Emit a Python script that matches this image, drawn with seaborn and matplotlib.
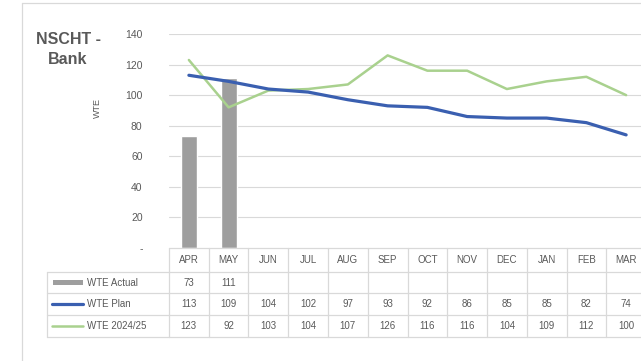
import numpy as np
import pandas as pd
import matplotlib
matplotlib.use("Agg")
import matplotlib.pyplot as plt
import matplotlib.transforms as mtransforms
from matplotlib.patches import Rectangle
from matplotlib.lines import Line2D
import seaborn as sns

months = ["APR", "MAY", "JUN", "JUL", "AUG", "SEP", "OCT", "NOV", "DEC", "JAN", "FEB", "MAR"]
wte_actual = [73, 111, None, None, None, None, None, None, None, None, None, None]
wte_plan = [113, 109, 104, 102, 97, 93, 92, 86, 85, 85, 82, 74]
wte_prev = [123, 92, 103, 104, 107, 126, 116, 116, 104, 109, 112, 100]
series_names = ["WTE Actual", "WTE Plan", "WTE 2024/25"]
y_ticks = [0, 20, 40, 60, 80, 100, 120, 140]
y_tick_labels = ["-", "20", "40", "60", "80", "100", "120", "140"]

C_BAR = "#9E9E9E"
C_PLAN = "#3A5FB0"
C_PREV = "#A9D18E"
C_TEXT = "#595959"
C_GRID = "#D9D9D9"

sns.set_theme(style="white")
plt.rcParams["font.family"] = ["Liberation Sans", "DejaVu Sans"]

W, H = 641, 361
fig = plt.figure(figsize=(W / 100, H / 100), dpi=100)

def fx(px):
    return px / W

def fy(py):
    return 1 - py / H

# plot area
left_px, right_px, top_px, bottom_px = 169, 646, 34, 248
ax = fig.add_axes([fx(left_px), fy(bottom_px), fx(right_px - left_px), (bottom_px - top_px) / H])

pos = np.arange(len(months))
df = pd.DataFrame({"pos": pos, "month": months,
                   "actual": pd.array(wte_actual, dtype="Float64").astype(float),
                   "plan": wte_plan, "prev": wte_prev})

sns.barplot(data=df, x="pos", y="actual", native_scale=True, color=C_BAR,
            width=0.4, saturation=1, ax=ax, zorder=2)
sns.lineplot(data=df, x="pos", y="prev", color=C_PREV, linewidth=1.8, ax=ax, zorder=3)
sns.lineplot(data=df, x="pos", y="plan", color=C_PLAN, linewidth=2.3, ax=ax, zorder=4)

ax.set_xlim(-0.5, len(months) - 0.5)
ax.set_ylim(0, 140)
ax.set_yticks(y_ticks)
ax.set_yticklabels(y_tick_labels, color=C_TEXT, fontsize=7.5)
ax.tick_params(axis="y", length=0, pad=19)
ax.set_xticks([])
ax.set_xlabel("")
ax.set_ylabel("")
for y in y_ticks[1:]:
    ax.axhline(y, color=C_GRID, linewidth=0.8, zorder=0)
for s in ax.spines.values():
    s.set_visible(False)

# title and axis label
fig.text(fx(68), fy(40), "NSCHT -", ha="center", va="center", fontsize=11.5,
         fontweight="bold", color=C_TEXT)
fig.text(fx(68), fy(60), "Bank", ha="center", va="center", fontsize=11.5,
         fontweight="bold", color=C_TEXT)
fig.text(fx(97), fy(108), "WTE", ha="center", va="center", rotation=90,
         fontsize=6.5, color=C_TEXT)

# data table beneath the plot
tr = mtransforms.blended_transform_factory(ax.transData, fig.transFigure)
row_edges = [248, 272, 293, 315, 337]
row_mid = [(row_edges[i] + row_edges[i + 1]) / 2 for i in range(4)]
line_kw = dict(color=C_GRID, linewidth=0.9)
x_lo, x_hi = -0.5, len(months) - 0.5
# horizontal rules
fig.add_artist(Line2D([x_lo, x_hi], [fy(row_edges[0])] * 2, transform=tr, **line_kw))
for r in row_edges[1:]:
    fig.add_artist(Line2D([fx(47), fx(left_px)], [fy(r)] * 2, transform=fig.transFigure, **line_kw))
    fig.add_artist(Line2D([x_lo, x_hi], [fy(r)] * 2, transform=tr, **line_kw))
# vertical rules
for i in range(len(months) + 1):
    fig.add_artist(Line2D([i - 0.5] * 2, [fy(row_edges[0]), fy(row_edges[-1])], transform=tr, **line_kw))
fig.add_artist(Line2D([fx(47)] * 2, [fy(row_edges[1]), fy(row_edges[-1])], transform=fig.transFigure, **line_kw))

txt_kw = dict(fontsize=7, color=C_TEXT, ha="center", va="center")
rows = [months,
        ["" if v is None else str(v) for v in wte_actual],
        [str(v) for v in wte_plan],
        [str(v) for v in wte_prev]]
for r, vals in enumerate(rows):
    for i, v in enumerate(vals):
        fig.text(i, fy(row_mid[r]), v, transform=tr, **txt_kw)

# legend keys inside the table
fig.add_artist(Rectangle((fx(53), fy(row_mid[1]) - 2.5 / H), fx(30), 5 / H,
                         transform=fig.transFigure, color=C_BAR, lw=0))
fig.add_artist(Line2D([fx(52), fx(83)], [fy(row_mid[2])] * 2, transform=fig.transFigure,
                      color=C_PLAN, linewidth=2.3))
fig.add_artist(Line2D([fx(52), fx(83)], [fy(row_mid[3])] * 2, transform=fig.transFigure,
                      color=C_PREV, linewidth=1.8))
for r, name in enumerate(series_names, start=1):
    fig.text(fx(87), fy(row_mid[r]), name, ha="left", va="center", fontsize=7, color=C_TEXT)

# chart frame
fig.add_artist(Line2D([fx(22), fx(22)], [fy(3), 0], transform=fig.transFigure, color="#D9D9D9", lw=0.9))
fig.add_artist(Line2D([fx(22), 1], [fy(3), fy(3)], transform=fig.transFigure, color="#D9D9D9", lw=0.9))

fig.savefig("out.png", dpi=100, facecolor="white")
